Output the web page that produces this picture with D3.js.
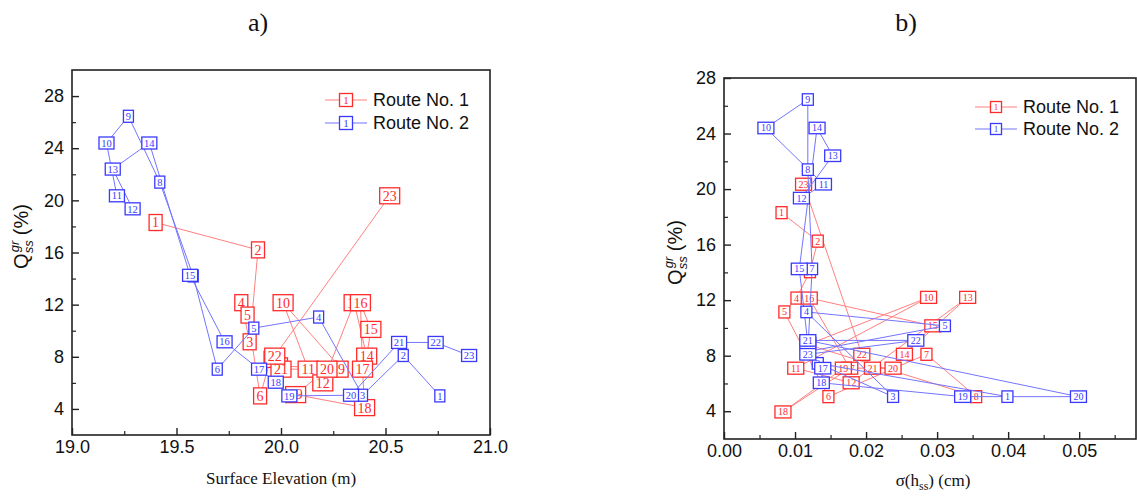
<!DOCTYPE html>
<html>
<head>
<meta charset="utf-8">
<script src="https://cdn.jsdelivr.net/npm/d3@7"></script>
<style>
  body { margin: 0; background: #fff; }
  svg { display: block; }
</style>
</head>
<body>
<svg id="chart" width="1137" height="496"></svg>
<script>
// Sampling point numbers along each route
const pointLabels = ["1","2","3","4","5","6","7","8","9","10","11","12","13","14","15","16","17","18","19","20","21","22","23"];

// Panel a: surface elevation (m) vs Q_ss^gr (%)
const elevRoute1 = [19.40,19.89,19.85,19.81,19.84,19.90,19.95,20.00,20.29,20.01,20.13,20.20,20.35,20.41,20.43,20.38,20.39,20.40,20.07,20.22,20.00,19.97,20.52];
const qElevRoute1 = [18.3,16.2,9.15,12.15,11.2,5.0,7.8,7.3,7.05,12.15,7.05,6.0,12.15,8.05,10.1,12.15,7.05,4.1,5.1,7.05,7.05,8.05,20.35];
const elevRoute2 = [20.76,20.585,20.39,20.18,19.87,19.695,19.58,19.42,19.27,19.165,19.215,19.29,19.195,19.37,19.565,19.73,19.895,19.975,20.04,20.335,20.565,20.74,20.90];
const qElevRoute2 = [5.0,8.1,5.05,11.05,10.2,7.05,14.2,21.4,26.45,24.4,20.35,19.35,22.4,24.4,14.25,9.15,7.05,6.05,5.0,5.05,9.1,9.1,8.1];

// Panel b: sigma(h_ss) (cm) vs Q_ss^gr (%)
const sigmaRoute1 = [0.0081,0.0132,0.0121,0.0102,0.0085,0.0147,0.0285,0.0355,0.0118,0.0288,0.0101,0.0179,0.0343,0.0254,0.0294,0.0120,0.0177,0.0083,0.0168,0.0238,0.0209,0.0194,0.0112];
const qSigmaRoute1 = [18.3,16.25,14.05,12.15,11.15,5.05,8.1,5.05,8.8,12.2,7.1,6.05,12.2,8.1,10.15,12.15,7.1,3.95,7.1,7.1,7.1,8.1,20.35];
const sigmaRoute2 = [0.0399,0.0132,0.0238,0.0116,0.0311,0.0118,0.0124,0.0118,0.0118,0.0059,0.0140,0.0109,0.0153,0.0131,0.0106,0.0118,0.0139,0.0137,0.0336,0.0499,0.0118,0.0270,0.0118];
const qSigmaRoute2 = [5.05,7.45,5.05,11.15,10.15,8.3,14.25,21.4,26.45,24.4,20.35,19.35,22.4,24.4,14.25,8.9,7.1,6.05,5.05,5.05,9.1,9.1,8.1];

// Axis ticks
const yTicks = [4,8,12,16,20,24,28];
const elevTicks = [19.0,19.5,20.0,20.5,21.0];
const sigmaTicks = [0.00,0.01,0.02,0.03,0.04,0.05];
const seriesNames = ["Route No. 1","Route No. 2"];

const RED = "#ff2b2b", RED_LINE = "#ff8080";
const BLUE = "#3a3aff", BLUE_LINE = "#7474ff";
const SANS = "Liberation Sans, Arial, sans-serif";
const SERIF = "Liberation Serif, Times New Roman, serif";

const svg = d3.select("#chart");

function drawPanel(cfg) {
  const g = svg.append("g");
  const x = d3.scaleLinear().domain(cfg.xDomain).range(cfg.xRange);
  const y = d3.scaleLinear().domain(cfg.yDomain).range(cfg.yRange);
  const [x0, x1] = cfg.xRange, [y0, y1] = cfg.yRange;

  // frame
  g.append("rect").attr("x", x0).attr("y", y1).attr("width", x1 - x0).attr("height", y0 - y1)
    .attr("fill", "none").attr("stroke", "#222").attr("stroke-width", 1.6);

  // minor ticks
  g.append("g").attr("transform", `translate(0,${y0})`)
    .call(d3.axisBottom(x).tickValues(cfg.xMinor).tickSize(-4).tickFormat(""))
    .call(a => a.select(".domain").remove())
    .selectAll("line").attr("stroke", "#222").attr("stroke-width", 1.2);
  g.append("g").attr("transform", `translate(${x0},0)`)
    .call(d3.axisLeft(y).tickValues(cfg.yMinor).tickSize(-4).tickFormat(""))
    .call(a => a.select(".domain").remove())
    .selectAll("line").attr("stroke", "#222").attr("stroke-width", 1.2);

  // major ticks and labels
  const xa = g.append("g").attr("transform", `translate(0,${y0})`)
    .call(d3.axisBottom(x).tickValues(cfg.xTicks).tickSize(-7).tickPadding(5).tickFormat(cfg.xFormat));
  const ya = g.append("g").attr("transform", `translate(${x0},0)`)
    .call(d3.axisLeft(y).tickValues(yTicks).tickSize(-7).tickPadding(8).tickFormat(d3.format("d")));
  [xa, ya].forEach(a => {
    a.select(".domain").remove();
    a.selectAll("line").attr("stroke", "#222").attr("stroke-width", 1.4);
    a.selectAll("text").attr("font-family", SANS).attr("font-size", 18).attr("fill", "#111");
  });

  // series
  const routes = [
    { xs: cfg.r1x, ys: cfg.r1y, stroke: RED, line: RED_LINE, box: cfg.box1 },
    { xs: cfg.r2x, ys: cfg.r2y, stroke: BLUE, line: BLUE_LINE, box: cfg.box2 }
  ];
  routes.forEach(r => {
    const pts = pointLabels.map((lab, i) => ({ lab, x: r.xs[i], y: r.ys[i] }));
    g.append("path").datum(pts)
      .attr("d", d3.line().x(d => x(d.x)).y(d => y(d.y)))
      .attr("fill", "none").attr("stroke", r.line).attr("stroke-width", 1);
    const mk = g.selectAll(null).data(pts).enter().append("g")
      .attr("transform", d => `translate(${x(d.x)},${y(d.y)})`);
    mk.append("rect")
      .attr("x", d => -(d.lab.length > 1 ? r.box.w2 : r.box.w1) / 2)
      .attr("y", -r.box.h / 2)
      .attr("width", d => d.lab.length > 1 ? r.box.w2 : r.box.w1)
      .attr("height", r.box.h)
      .attr("fill", "#fff").attr("stroke", r.stroke).attr("stroke-width", 1.3);
    mk.append("text").text(d => d.lab)
      .attr("text-anchor", "middle").attr("dy", "0.35em")
      .attr("font-family", SERIF).attr("font-size", r.box.fs).attr("fill", r.stroke);
  });

  // legend
  const leg = cfg.legend;
  [[RED, RED_LINE, cfg.box1], [BLUE, BLUE_LINE, cfg.box2]].forEach(([c, lc, b], i) => {
    const ly = leg.y + i * leg.dy;
    g.append("line").attr("x1", leg.x).attr("x2", leg.x + 42).attr("y1", ly).attr("y2", ly)
      .attr("stroke", lc).attr("stroke-width", 1.2);
    const bw = leg.bw, bh = leg.bh;
    g.append("rect").attr("x", leg.x + 21 - bw / 2).attr("y", ly - bh / 2).attr("width", bw).attr("height", bh)
      .attr("fill", "#fff").attr("stroke", c).attr("stroke-width", 1.3);
    g.append("text").text("1").attr("x", leg.x + 21).attr("y", ly).attr("dy", "0.35em")
      .attr("text-anchor", "middle").attr("font-family", SERIF).attr("font-size", leg.fs).attr("fill", c);
    g.append("text").text(seriesNames[i]).attr("x", leg.x + 48).attr("y", ly).attr("dy", "0.35em")
      .attr("font-family", SANS).attr("font-size", 18).attr("fill", "#111");
  });

  // y axis title: Q_ss^gr (%)
  const yt = g.append("text")
    .attr("transform", `translate(${cfg.yTitle.x},${cfg.yTitle.y}) rotate(-90)`)
    .attr("font-family", SANS).attr("font-size", 20).attr("fill", "#111");
  yt.append("tspan").text("Q");
  const sub = yt.append("tspan").text("ss").attr("font-size", 13).attr("font-style", "italic").attr("dy", 5);
  yt.append("tspan").text("gr").attr("font-size", 13).attr("font-style", "italic").attr("dy", -14).attr("id", "sup" + cfg.id);
  yt.append("tspan").text(" (%)").attr("dy", 9);
  const subW = sub.node().getComputedTextLength();
  yt.select("#sup" + cfg.id).attr("dx", -subW + 1);
  const bb = yt.node().getBBox();
  yt.attr("text-anchor", "start");
  // centre the title on its anchor point
  const len = yt.node().getComputedTextLength();
  yt.attr("transform", `translate(${cfg.yTitle.x},${cfg.yTitle.y + (len - subW) / 2}) rotate(-90)`);

  // x axis title
  cfg.drawXTitle(g);

  // panel caption
  g.append("text").text(cfg.caption).attr("x", cfg.capX).attr("y", 31)
    .attr("text-anchor", "middle").attr("font-family", SERIF).attr("font-size", 26).attr("fill", "#111");
}

drawPanel({
  id: "a",
  xDomain: [19.0, 21.0], xRange: [72, 490],
  yDomain: [2, 30], yRange: [435, 70],
  xTicks: elevTicks, xMinor: [19.25, 19.75, 20.25, 20.75],
  yMinor: [6, 10, 14, 18, 22, 26],
  xFormat: d3.format(".1f"),
  r1x: elevRoute1, r1y: qElevRoute1, r2x: elevRoute2, r2y: qElevRoute2,
  box1: { w1: 13, w2: 20, h: 16, fs: 14 },
  box2: { w1: 10, w2: 15, h: 12, fs: 10.5 },
  legend: { x: 325, y: 100, dy: 23, bw: 13, bh: 13, fs: 11 },
  yTitle: { x: 28, y: 237 },
  caption: "a)", capX: 258,
  drawXTitle: g => g.append("text").text("Surface Elevation (m)").attr("x", 281).attr("y", 484)
    .attr("text-anchor", "middle").attr("font-family", SERIF).attr("font-size", 17).attr("fill", "#111")
});

drawPanel({
  id: "b",
  xDomain: [0, 0.058], xRange: [724, 1136],
  yDomain: [2, 28], yRange: [439, 78],
  xTicks: sigmaTicks, xMinor: [0.005, 0.015, 0.025, 0.035, 0.045, 0.055],
  yMinor: [6, 10, 14, 18, 22, 26],
  xFormat: d3.format(".2f"),
  r1x: sigmaRoute1, r1y: qSigmaRoute1, r2x: sigmaRoute2, r2y: qSigmaRoute2,
  box1: { w1: 11, w2: 16, h: 12, fs: 10 },
  box2: { w1: 11, w2: 16, h: 11.5, fs: 10 },
  legend: { x: 975, y: 107, dy: 22, bw: 11, bh: 11, fs: 9 },
  yTitle: { x: 682, y: 253 },
  caption: "b)", capX: 906,
  drawXTitle: g => {
    const t = g.append("text").attr("x", 933).attr("y", 486).attr("text-anchor", "middle")
      .attr("font-family", SERIF).attr("font-size", 17).attr("fill", "#111");
    t.append("tspan").text("σ(h");
    t.append("tspan").text("ss").attr("font-size", 12).attr("dy", 4);
    t.append("tspan").text(") (cm)").attr("dy", -4);
  }
});
</script>
</body>
</html>
